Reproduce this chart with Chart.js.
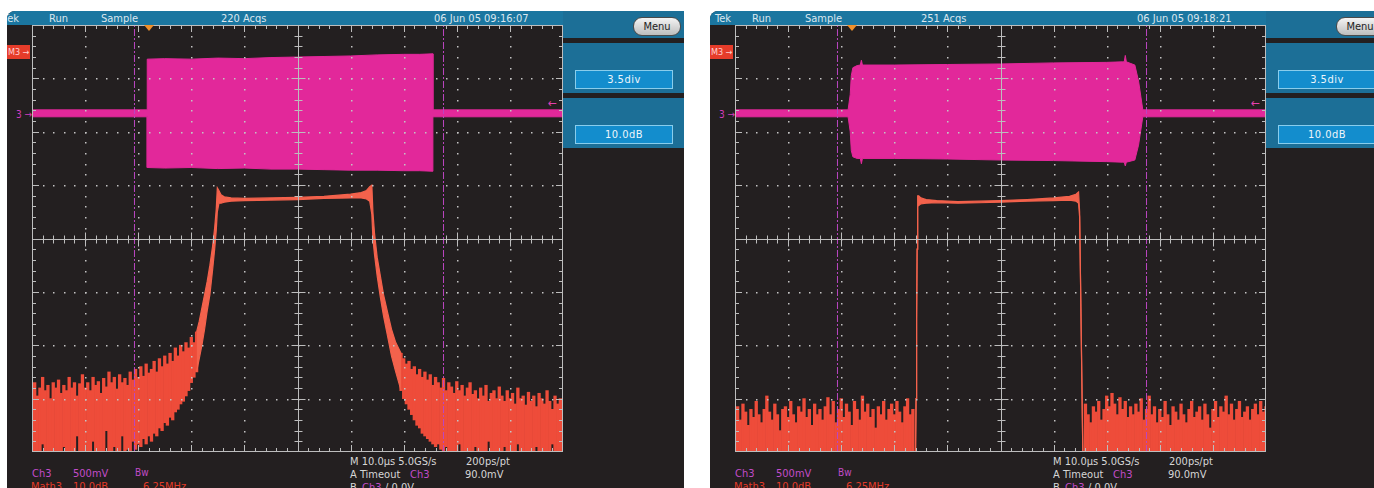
<!DOCTYPE html>
<html>
<head>
<meta charset="utf-8">
<script src="https://cdn.jsdelivr.net/npm/chart.js@4.4.1/dist/chart.umd.min.js"></script>
<style>
  body { margin: 0; width: 1374px; height: 488px; overflow: hidden; background: #fff; position: relative;
         font-family: "Liberation Sans Narrow", "DejaVu Sans Condensed", "Liberation Sans", sans-serif; }
  .scr { position: absolute; top: 11px; width: 677px; height: 477px; background: #231f20; overflow: hidden; border-top-left-radius: 8px; }
  .tbar { position: absolute; left: 0; top: 0; width: 677px; height: 14px; background: #1b76a0; }
  .side { position: absolute; left: 556px; width: 121px; background: #1c6f97; }
  .t { position: absolute; white-space: nowrap; font-size: 11px; line-height: 13px; }
  .tb { top: 1px; color: #dbe7ef; }
  .box { position: absolute; left: 568px; width: 96px; height: 17px; background: #138dcd; border: 1px solid #88cdec;
         color: #eef6fb; font-size: 11px; line-height: 17px; text-align: center; letter-spacing: 0.5px; }
  .menu { position: absolute; left: 626px; top: 6px; width: 46px; height: 17px; border-radius: 9px; border: 1px solid #4a4a4a;
          background: linear-gradient(#f4f4f4, #bdbdbd); color: #222; font-size: 11px; line-height: 17px; text-align: center; }
  canvas { position: absolute; left: 25px; top: 14px; }
  .m3 { position: absolute; left: 0; top: 34px; width: 23px; height: 14px; background: #e63c2a; color: #ffd0d0;
        font-size: 9px; line-height: 14px; text-indent: 1px; }
  .gnd { left: 9px; top: 97px; color: #d23cbc; font-size: 10px; }
  .lvl { left: 541px; top: 86px; color: #e23fae; font-size: 12px; }
  .trig { position: absolute; left: 137px; top: 14px; width: 0; height: 0; z-index: 2;
          border-left: 5px solid transparent; border-right: 5px solid transparent; border-top: 6px solid #f0902a; }
  .pu { color: #c24cc8; }
  .rd { color: #e23a28; }
  .wh { color: #d6d6d6; }
</style>
</head>
<body>

<div class="scr" style="left:7px">
  <div class="tbar"></div>
  <span class="t tb" style="left:-4px">Tek</span>
  <span class="t tb" style="left:42px">Run</span>
  <span class="t tb" style="left:94px">Sample</span>
  <span class="t tb" style="left:214px">220 Acqs</span>
  <span class="t tb" style="left:427px">06 Jun 05 09:16:07</span>
  <div class="side" style="top:0;height:27px"></div>
  <div class="side" style="top:32px;height:50px"></div>
  <div class="side" style="top:87px;height:50px"></div>
  <div class="menu">Menu</div>
  <div class="box" style="top:59px">3.5div</div>
  <div class="box" style="top:114px">10.0dB</div>
  <div class="m3">M3 →</div>
  <span class="t gnd">3 →</span>
  <span class="t lvl">←</span>
  <canvas id="scopeLeft" width="531" height="427"></canvas>
  <div class="trig"></div>
  <span class="t pu" style="left:25px;top:456px">Ch3</span>
  <span class="t pu" style="left:66px;top:456px">500mV</span>
  <span class="t pu" style="left:128px;top:455px;font-size:10px">Bw</span>
  <span class="t rd" style="left:24px;top:469px">Math3</span>
  <span class="t rd" style="left:66px;top:469px">10.0dB</span>
  <span class="t rd" style="left:136px;top:469px">6.25MHz</span>
  <span class="t wh" style="left:343px;top:444px">M 10.0µs 5.0GS/s</span>
  <span class="t wh" style="left:459px;top:444px">200ps/pt</span>
  <span class="t wh" style="left:343px;top:457px">A  Timeout</span>
  <span class="t pu" style="left:403px;top:457px">Ch3</span>
  <span class="t wh" style="left:458px;top:457px">90.0mV</span>
  <span class="t wh" style="left:343px;top:470px">B</span>
  <span class="t pu" style="left:355px;top:470px">Ch3</span>
  <span class="t wh" style="left:378px;top:470px">/  0.0V</span>
</div>

<div class="scr" style="left:710px">
  <div class="tbar"></div>
  <span class="t tb" style="left:5px">Tek</span>
  <span class="t tb" style="left:42px">Run</span>
  <span class="t tb" style="left:95px">Sample</span>
  <span class="t tb" style="left:211px">251 Acqs</span>
  <span class="t tb" style="left:427px">06 Jun 05 09:18:21</span>
  <div class="side" style="top:0;height:27px"></div>
  <div class="side" style="top:32px;height:50px"></div>
  <div class="side" style="top:87px;height:50px"></div>
  <div class="menu">Menu</div>
  <div class="box" style="top:59px">3.5div</div>
  <div class="box" style="top:114px">10.0dB</div>
  <div class="m3">M3 →</div>
  <span class="t gnd">3 →</span>
  <span class="t lvl">←</span>
  <canvas id="scopeRight" width="531" height="427"></canvas>
  <div class="trig"></div>
  <span class="t pu" style="left:25px;top:456px">Ch3</span>
  <span class="t pu" style="left:66px;top:456px">500mV</span>
  <span class="t pu" style="left:128px;top:455px;font-size:10px">Bw</span>
  <span class="t rd" style="left:24px;top:469px">Math3</span>
  <span class="t rd" style="left:66px;top:469px">10.0dB</span>
  <span class="t rd" style="left:136px;top:469px">6.25MHz</span>
  <span class="t wh" style="left:343px;top:444px">M 10.0µs 5.0GS/s</span>
  <span class="t wh" style="left:459px;top:444px">200ps/pt</span>
  <span class="t wh" style="left:343px;top:457px">A  Timeout</span>
  <span class="t pu" style="left:403px;top:457px">Ch3</span>
  <span class="t wh" style="left:458px;top:457px">90.0mV</span>
  <span class="t wh" style="left:343px;top:470px">B</span>
  <span class="t pu" style="left:355px;top:470px">Ch3</span>
  <span class="t wh" style="left:378px;top:470px">/  0.0V</span>
</div>

<script>
// screen is 10 divisions wide, 8 divisions tall (values in divisions)
const cursorX = [1.93, 7.75];
const noiseStep = 0.05;

// ---- left capture (220 Acqs): square burst, FFT with wide skirts ----
const leftBurstX      = [0, 2.17, 2.17, 2.5, 3.0, 3.5, 4.0, 4.5, 5.0, 5.5, 6.0, 6.5, 7.0, 7.3, 7.55, 7.55, 10];
const leftBurstTop    = [2.41, 2.41, 3.36, 3.37, 3.36, 3.38, 3.37, 3.39, 3.40, 3.41, 3.42, 3.44, 3.45, 3.45, 3.46, 2.41, 2.41];
const leftBurstBottom = [2.28, 2.28, 1.33, 1.32, 1.33, 1.31, 1.32, 1.30, 1.30, 1.29, 1.28, 1.28, 1.27, 1.27, 1.26, 2.28, 2.28];

const leftSpecX      = [3.10, 3.15, 3.20, 3.25, 3.30, 3.35, 3.40, 3.44, 3.47, 3.49, 3.52, 3.56, 3.62, 3.75, 4.0, 4.5, 5.0, 5.5, 6.0, 6.2, 6.3, 6.36, 6.40, 6.42, 6.45, 6.50, 6.56, 6.62, 6.70, 6.77, 6.85, 6.95];
const leftSpecTop    = [-1.75, -1.55, -1.3, -1.05, -0.8, -0.5, -0.15, 0.2, 0.55, 0.95, 0.9, 0.82, 0.78, 0.76, 0.75, 0.76, 0.77, 0.79, 0.83, 0.86, 0.9, 0.97, 1.0, 0.5, 0.1, -0.35, -0.7, -1.05, -1.4, -1.7, -1.95, -2.15];
const leftSpecBottom = [-2.5, -2.25, -2.0, -1.7, -1.35, -1.05, -0.6, -0.2, 0.15, 0.5, 0.66, 0.66, 0.68, 0.7, 0.71, 0.72, 0.73, 0.75, 0.76, 0.76, 0.74, 0.7, 0.45, 0.0, -0.3, -0.7, -1.1, -1.45, -1.85, -2.2, -2.5, -2.85];

// noise floor left of the band, from x = 0
const leftFloorTopA = [-2.9, -2.7, -2.95, -2.8, -2.6, -2.85, -2.75, -3.0, -2.7, -2.8,
  -2.65, -2.9, -2.75, -2.85, -2.6, -2.8, -2.7, -2.95, -2.72, -2.55,
  -2.8, -2.7, -2.85, -2.6, -2.75, -2.68, -2.9, -2.62, -2.78, -2.5,
  -2.7, -2.6, -2.82, -2.55, -2.7, -2.62, -2.75, -2.5, -2.65, -2.45,
  -2.6, -2.4, -2.58, -2.35, -2.52, -2.45, -2.3, -2.5, -2.25, -2.4,
  -2.2, -2.35, -2.15, -2.3, -2.05, -2.2, -2.0, -2.12, -1.95, -2.05,
  -1.85, -1.95, -1.75];
const leftFloorBottomA = [-4, -4, -4, -4, -3.85, -4, -4, -4, -4, -4,
  -4, -4, -3.9, -4, -4, -4, -4, -3.7, -4, -4,
  -4, -4, -4, -3.8, -4, -4, -4, -4, -3.6, -4,
  -4, -3.9, -4, -4, -3.7, -4, -3.95, -4, -3.8, -3.95,
  -3.85, -3.9, -3.75, -3.85, -3.7, -3.8, -3.65, -3.7, -3.55, -3.6,
  -3.45, -3.5, -3.35, -3.4, -3.25, -3.2, -3.1, -3.05, -2.95, -2.85,
  -2.7, -2.6, -2.5];
// noise floor right of the band, from x = 6.95
const leftFloorTopB = [-2.15, -2.25, -2.35, -2.3, -2.45, -2.4, -2.55, -2.45, -2.6, -2.5,
  -2.65, -2.55, -2.75, -2.6, -2.7, -2.8, -2.62, -2.85, -2.7, -2.78,
  -2.9, -2.68, -2.85, -2.75, -2.95, -2.8, -2.7, -2.92, -2.85, -3.0,
  -2.8, -2.95, -2.75, -3.05, -2.9, -2.85, -3.0, -2.78, -2.95, -3.05,
  -2.85, -3.0, -2.9, -3.1, -2.8, -3.0, -2.95, -3.12, -2.88, -3.05,
  -2.95, -3.15, -2.9, -3.0, -3.1, -2.85, -3.05, -3.2, -2.95, -3.1,
  -3.0, -3.15];
const leftFloorBottomB = [-2.85, -3.0, -3.1, -3.2, -3.3, -3.4, -3.5, -3.55, -3.65, -3.7,
  -3.75, -3.8, -3.85, -3.9, -3.85, -3.95, -4, -3.9, -4, -4,
  -4, -4, -3.85, -4, -4, -4, -4, -4, -3.9, -4,
  -4, -4, -4, -3.8, -4, -4, -4, -4, -4, -3.9,
  -4, -4, -4, -4, -3.85, -4, -4, -4, -4, -4,
  -4, -3.9, -4, -4, -4, -4, -4, -3.85, -4, -4,
  -4, -4];

// ---- right capture (251 Acqs): shaped burst, brick-wall FFT ----
const rightBurstX      = [0, 2.13, 2.17, 2.19, 2.22, 2.3, 2.36, 2.38, 2.40, 3.0, 4.0, 5.0, 6.0, 7.0, 7.3, 7.33, 7.35, 7.37, 7.53, 7.6, 7.68, 10];
const rightBurstTop    = [2.41, 2.41, 2.7, 3.05, 3.2, 3.24, 3.25, 3.34, 3.25, 3.25, 3.26, 3.27, 3.29, 3.3, 3.31, 3.31, 3.43, 3.31, 3.25, 2.95, 2.41, 2.41];
const rightBurstBottom = [2.28, 2.28, 2.0, 1.65, 1.53, 1.5, 1.5, 1.4, 1.5, 1.5, 1.49, 1.47, 1.46, 1.44, 1.43, 1.43, 1.36, 1.43, 1.47, 1.75, 2.28, 2.28];

const rightSpecX      = [3.40, 3.41, 3.42, 3.43, 3.44, 3.46, 3.5, 3.6, 3.8, 4.2, 4.6, 5.0, 5.5, 6.0, 6.3, 6.42, 6.47, 6.49, 6.51, 6.53, 6.55];
const rightSpecTop    = [-4, -3, -1.5, -0.2, 0.8, 0.8, 0.76, 0.73, 0.71, 0.69, 0.70, 0.71, 0.73, 0.76, 0.79, 0.83, 0.87, 0.5, -1, -2.5, -4];
const rightSpecBottom = [-4, -3, -1.5, -0.2, 0.6, 0.62, 0.65, 0.66, 0.67, 0.66, 0.67, 0.68, 0.70, 0.71, 0.72, 0.70, 0.66, 0.4, -1, -2.5, -4];

// noise floor from x = 0 and from x = 6.60 (runs off the bottom of the screen)
const rightFloorTopA = [-3.3, -3.15, -3.4, -3.1, -3.25, -3.5, -3.2, -3.35, -3.05, -3.3,
  -3.45, -3.2, -2.95, -3.25, -3.4, -3.1, -3.3, -3.6, -3.2, -3.15,
  -3.35, -3.05, -3.3, -3.45, -3.15, -3.25, -3.0, -3.35, -3.2, -3.5,
  -3.1, -3.3, -3.2, -3.4, -3.15, -2.98, -3.3, -3.05, -3.45, -3.2,
  -3.0, -3.35, -3.1, -3.25, -3.5, -3.05, -3.2, -3.4, -2.95, -3.25,
  -3.1, -3.35, -3.2, -3.55, -3.15, -3.3, -3.05, -3.4, -3.2, -3.1,
  -3.3, -3.05, -3.25, -3.45, -3.15, -3.0, -3.3, -3.2];
const rightFloorTopB = [-3.1, -3.3, -3.45, -3.15, -3.25, -3.05, -3.4, -3.2,
  -2.95, -3.15, -2.9, -3.1, -3.3, -2.98, -3.2, -3.05, -3.35, -3.15,
  -3.3, -3.1, -3.25, -3.0, -3.4, -3.2, -2.95, -3.3, -3.15, -3.45,
  -3.2, -3.35, -3.05, -3.3, -3.5, -3.15, -3.25, -3.4, -3.1, -3.3,
  -3.45, -3.2, -3.05, -3.35, -3.25, -3.15, -3.4, -3.1, -3.3, -3.55,
  -3.2, -3.05, -3.35, -3.15, -3.25, -2.95, -3.3, -3.1, -3.4, -3.2,
  -3.05, -3.35, -3.25, -3.15, -3.4, -3.2, -3.1, -3.3, -3.05, -3.25, -3.15];

const MAGENTA = '#e2289a';
const TRACE = '#ee4c3a';

function pts(xs, ys) {
  return xs.map((x, i) => ({x: x, y: ys[i]}));
}

function floorBars(x0, tops, bottoms) {
  return tops.map((t, i) => ({x: x0 + i * noiseStep, y: [bottoms ? bottoms[i] : -4, t]}));
}

// Tek style graticule: dotted divisions, centre crosshair and edge ticks
const graticule = {
  id: 'graticule',
  afterDatasetsDraw(chart) {
    const {ctx, chartArea: a, scales: {x, y}} = chart;
    const px = v => Math.round(x.getPixelForValue(v)) + 0.5;
    const py = v => Math.round(y.getPixelForValue(v)) + 0.5;
    ctx.save();
    ctx.fillStyle = '#c4c4c4';
    for (let d = 1; d < 10; d++) {
      if (d === 5) continue;
      for (let k = 1; k < 40; k++) ctx.fillRect(px(d) - 0.5, py(-4 + k / 5) - 0.5, 1.5, 1.5);
    }
    for (let d = -3; d <= 3; d++) {
      if (d === 0) continue;
      for (let k = 1; k < 50; k++) ctx.fillRect(px(k / 5) - 0.5, py(d) - 0.5, 1.5, 1.5);
    }
    ctx.strokeStyle = '#bdbdbd';
    ctx.lineWidth = 1;
    ctx.beginPath();
    ctx.moveTo(px(5), a.top); ctx.lineTo(px(5), a.bottom);
    ctx.moveTo(a.left, py(0)); ctx.lineTo(a.right, py(0));
    for (let k = 1; k < 50; k++) {
      const xx = px(k / 5);
      const major = k % 5 === 0;
      const len = major ? 7 : 4;
      ctx.moveTo(xx, a.top); ctx.lineTo(xx, a.top + len);
      ctx.moveTo(xx, a.bottom); ctx.lineTo(xx, a.bottom - len);
      ctx.moveTo(xx, py(0) - len); ctx.lineTo(xx, py(0) + len);
    }
    for (let k = 1; k < 40; k++) {
      const yy = py(-4 + k / 5);
      const major = k % 5 === 0;
      const len = major ? 7 : 4;
      ctx.moveTo(a.left, yy); ctx.lineTo(a.left + len, yy);
      ctx.moveTo(a.right, yy); ctx.lineTo(a.right - len, yy);
      ctx.moveTo(px(5) - len, yy); ctx.lineTo(px(5) + len, yy);
    }
    ctx.stroke();
    ctx.strokeRect(a.left + 0.5, a.top + 0.5, a.right - a.left - 1, a.bottom - a.top - 1);
    ctx.restore();
  }
};

function lineSet(data, color, width, fill, dash) {
  return {
    type: 'line', data: data, borderColor: color, backgroundColor: color, borderWidth: width,
    pointRadius: 0, tension: 0, fill: fill, borderDash: dash || []
  };
}

function scope(canvasId, s) {
  return new Chart(canvasId, {
    type: 'bar',
    data: {
      datasets: [
        lineSet([{x: cursorX[0], y: -4}, {x: cursorX[0], y: 4}], '#bb46c2', 1, false, [7, 2, 2, 2]),
        lineSet([{x: cursorX[1], y: -4}, {x: cursorX[1], y: 4}], '#bb46c2', 1, false, [7, 2, 2, 2]),
        lineSet(pts(s.specX, s.specTop), '#f3624c', 1.2, false),
        lineSet(pts(s.specX, s.specBottom), '#f3624c', 1.2, '-1'),
        lineSet(pts(s.burstX, s.burstTop), MAGENTA, 1, false),
        lineSet(pts(s.burstX, s.burstBottom), MAGENTA, 1, '-1'),
        {
          type: 'bar', data: s.floor, backgroundColor: TRACE, borderWidth: 0,
          barPercentage: 1, categoryPercentage: 1, grouped: false
        }
      ]
    },
    options: {
      responsive: false,
      animation: false,
      events: [],
      layout: {padding: 0},
      plugins: {legend: {display: false}, tooltip: {enabled: false}},
      scales: {
        x: {type: 'linear', min: 0, max: 10, offset: false, display: false},
        y: {type: 'linear', min: -4, max: 4, display: false}
      }
    },
    plugins: [graticule]
  });
}

scope('scopeLeft', {
  burstX: leftBurstX, burstTop: leftBurstTop, burstBottom: leftBurstBottom,
  specX: leftSpecX, specTop: leftSpecTop, specBottom: leftSpecBottom,
  floor: floorBars(0, leftFloorTopA, leftFloorBottomA).concat(floorBars(6.95, leftFloorTopB, leftFloorBottomB))
});

scope('scopeRight', {
  burstX: rightBurstX, burstTop: rightBurstTop, burstBottom: rightBurstBottom,
  specX: rightSpecX, specTop: rightSpecTop, specBottom: rightSpecBottom,
  floor: floorBars(0, rightFloorTopA).concat(floorBars(6.60, rightFloorTopB))
});
</script>
</body>
</html>
